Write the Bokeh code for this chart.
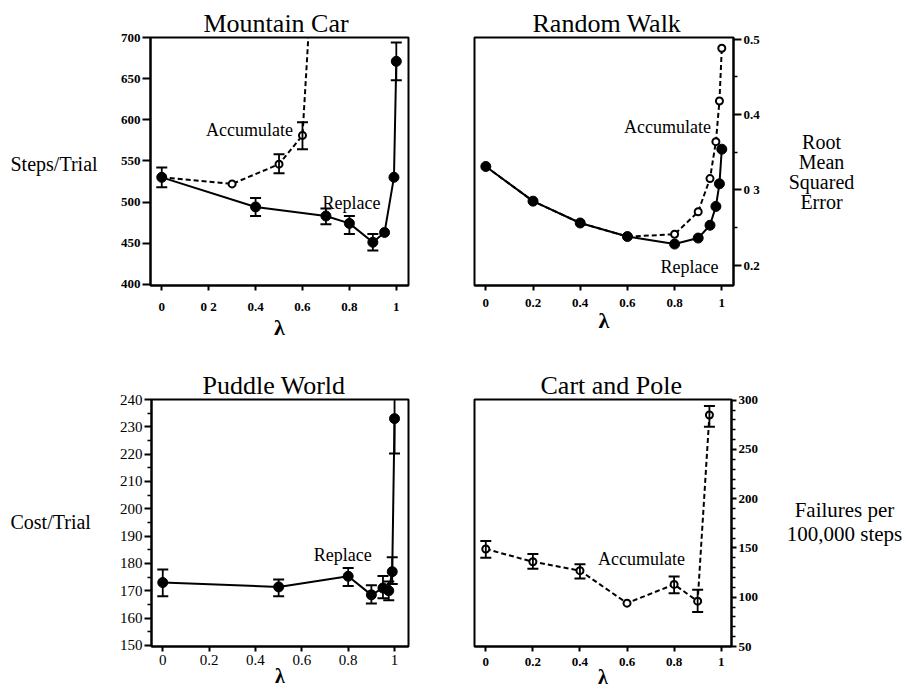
from bokeh.plotting import figure
from bokeh.layouts import column, row
from bokeh.models import Range1d, FixedTicker, Label, Title
from bokeh.core.properties import value
from bokeh.embed import file_html
from bokeh.resources import INLINE

FONT = "Liberation Serif"

# ---------------- data ----------------
# Mountain Car
mc_rep_lam = [0.0, 0.4, 0.7, 0.8, 0.9, 0.95, 0.99, 1.0]
mc_rep = [530, 494, 483, 474, 451, 463, 530, 671]
mc_rep_err_lam = [0.0, 0.4, 0.7, 0.8, 0.9, 1.0]
mc_rep_lo = [518, 483, 473, 461, 441, 648]
mc_rep_hi = [542, 505, 492, 483, 461, 694]
mc_acc_lam = [0.0, 0.3, 0.5, 0.6, 0.7]
mc_acc = [530, 522, 546, 581, 1060]
mc_acc_err_lam = [0.5, 0.6]
mc_acc_lo = [535, 564]
mc_acc_hi = [558, 597]
mc_xticks = [0, 0.2, 0.4, 0.6, 0.8, 1.0]
mc_xtick_labels = ["0", "0 2", "0.4", "0.6", "0.8", "1"]
mc_yticks = [400, 450, 500, 550, 600, 650, 700]

# Random Walk
rw_lam = [0.0, 0.2, 0.4, 0.6, 0.8, 0.9, 0.95, 0.975, 0.99, 1.0]
rw_rep = [0.331, 0.285, 0.256, 0.238, 0.228, 0.236, 0.253, 0.278, 0.308, 0.354]
rw_acc = [0.331, 0.285, 0.256, 0.238, 0.241, 0.271, 0.315, 0.364, 0.418, 0.488]
rw_xticks = [0, 0.2, 0.4, 0.6, 0.8, 1.0]
rw_xtick_labels = ["0", "0.2", "0.4", "0.6", "0.8", "1"]
rw_yticks = [0.2, 0.3, 0.4, 0.5]
rw_ytick_labels = ["0.2", "0 3", "0.4", "0.5"]

# Puddle World
pw_lam = [0.0, 0.5, 0.8, 0.9, 0.95, 0.975, 0.99, 1.0]
pw_rep = [173, 171.4, 175.3, 168.5, 171, 170, 177, 233]
pw_lo = [168, 168, 171.7, 165.3, 167.3, 166.5, 172.5, 220.2]
pw_hi = [177.8, 174.1, 178.3, 172, 175.4, 173.4, 182.3, 246]
pw_xticks = [0, 0.2, 0.4, 0.6, 0.8, 1.0]
pw_xtick_labels = ["0", "0.2", "0.4", "0.6", "0.8", "1"]
pw_yticks = [150, 160, 170, 180, 190, 200, 210, 220, 230, 240]

# Cart and Pole
cp_lam = [0.0, 0.2, 0.4, 0.6, 0.8, 0.9, 0.95]
cp_acc = [149, 136, 127, 94, 113, 96, 285]
cp_err_lam = [0.0, 0.2, 0.4, 0.8, 0.9, 0.95]
cp_lo = [140, 129, 119, 104, 85, 273]
cp_hi = [157, 144, 133.5, 121, 107.5, 294]
cp_xticks = [0, 0.2, 0.4, 0.6, 0.8, 1.0]
cp_xtick_labels = ["0", "0.2", "0.4", "0.6", "0.8", "1"]
cp_yticks = [50, 100, 150, 200, 250, 300]

# page origin of the layout (observed) and row geometry
OX, OY = 2, 2
ROW1_Y, ROW1_H = OY, 358
ROW2_Y, ROW2_H = OY + 358, 332
F1_T, F1_B = 39, 287      # frame top/bottom of row 1 (page px)
F2_T, F2_B = 401, 648     # frame top/bottom of row 2 (page px)


# ---------------- helpers ----------------
def make_panel(ox, W, oy, H, L, T, R, B, xr, yr, yloc, title, t_offset, t_standoff):
    p = figure(width=W, height=H, min_border_left=L - ox, min_border_right=ox + W - R,
               min_border_top=T - oy, min_border_bottom=oy + H - B,
               x_range=Range1d(*xr), y_range=Range1d(*yr), y_axis_location=yloc,
               output_backend="svg", toolbar_location=None)
    p.title = Title(text=title, align="left", text_font=FONT,
                    text_font_size="26px", text_font_style="normal",
                    text_color="black", offset=t_offset, standoff=t_standoff)
    p.grid.visible = False
    p.outline_line_color = "black"
    p.outline_line_width = 2
    p.outline_line_alpha = 1
    p.background_fill_color = "white"
    p.border_fill_color = "white"
    p._spec = (L, T, R, B, xr[0], xr[1], yr[0], yr[1])
    return p


def style_axes(p, xticks, xlabels, yticks, ylabels, size, bold, ytick_out, xstand,
               lam_size, lam_standoff, yminor=None):
    for ax in p.axis:
        ax.axis_line_width = 2
        ax.axis_line_color = "black"
        ax.major_tick_line_width = 2
        ax.major_tick_in = 0
        ax.minor_tick_in = 0
        ax.minor_tick_line_width = 1.5
        ax.major_label_text_font = FONT
        ax.major_label_text_font_size = f"{size}px"
        ax.major_label_text_font_style = "bold" if bold else "normal"
        ax.major_label_text_color = "black"
    xa = p.xaxis[0]
    xa.ticker = FixedTicker(ticks=xticks, minor_ticks=[])
    xa.major_label_overrides = {t: l for t, l in zip(xticks, xlabels)}
    xa.major_tick_out = 5
    xa.minor_tick_out = 0
    xa.major_label_standoff = xstand
    xa.axis_label = "λ"
    xa.axis_label_text_font = FONT
    xa.axis_label_text_font_size = f"{lam_size}px"
    xa.axis_label_text_font_style = "bold"
    xa.axis_label_text_color = "black"
    xa.axis_label_standoff = lam_standoff
    ya = p.yaxis[0]
    ya.ticker = FixedTicker(ticks=yticks, minor_ticks=yminor or [])
    ya.major_label_overrides = {t: l for t, l in zip(yticks, ylabels)}
    ya.major_tick_out = ytick_out
    ya.minor_tick_out = 4
    ya.major_label_standoff = 2


def add_text(p, px, py, text, size, align="center", baseline="alphabetic"):
    L, T, R, B, x0, x1, y0, y1 = p._spec
    x = x0 + (px - L) / (R - L) * (x1 - x0)
    y = y1 - (py - T) / (B - T) * (y1 - y0)
    p.add_layout(Label(x=x, y=y, text=text, text_font=FONT,
                       text_font_size=f"{size}px", text_align=align,
                       text_baseline=baseline, text_color="black"))


def text_panel(ox, W, oy, H, T, B, items):
    # plain figure whose data coordinates are page pixels (y downward)
    t = figure(width=W, height=H, x_range=Range1d(ox, ox + W), y_range=Range1d(B, T),
               min_border_left=0, min_border_right=0,
               min_border_top=T - oy, min_border_bottom=oy + H - B,
               x_axis_location=None, y_axis_location=None,
               output_backend="svg", toolbar_location=None)
    t.grid.visible = False
    t.outline_line_color = None
    t.background_fill_color = "white"
    t.border_fill_color = "white"
    for (x, y, txt, size, align) in items:
        t.text(x=[x], y=[y], text=[txt], text_font=value(FONT),
               text_font_size=value(f"{size}px"), text_align=value(align),
               text_baseline=value("alphabetic"), text_color="black")
    return t


def errbars(p, lam, lo, hi):
    p.segment(x0=lam, y0=lo, x1=lam, y1=hi, line_color="black", line_width=1.8)
    p.scatter(lam, lo, marker="dash", size=11, line_color="black", line_width=2)
    p.scatter(lam, hi, marker="dash", size=11, line_color="black", line_width=2)


def solid_series(p, lam, vals):
    p.line(lam, vals, line_color="black", line_width=2)
    p.scatter(lam, vals, marker="circle", size=10, fill_color="black",
              line_color="black")


def dashed_series(p, lam, vals):
    p.line(lam, vals, line_color="black", line_width=2, line_dash="5 3")
    p.scatter(lam, vals, marker="circle", size=7, fill_color="white",
              line_color="black", line_width=2)


# ---------------- Mountain Car ----------------
p1 = make_panel(118, 322, ROW1_Y, ROW1_H, 152, F1_T, 410, F1_B,
                (-0.048, 1.052), (398.5, 700), "left", "Mountain Car", 53, 0)
style_axes(p1, mc_xticks, mc_xtick_labels, mc_yticks, [str(v) for v in mc_yticks],
           13, True, 8, 8, 22, -2)
dashed_series(p1, mc_acc_lam, mc_acc)
errbars(p1, mc_acc_err_lam, mc_acc_lo, mc_acc_hi)
errbars(p1, mc_rep_err_lam, mc_rep_lo, mc_rep_hi)
solid_series(p1, mc_rep_lam, mc_rep)
add_text(p1, 251, 131, "Accumulate", 18)
add_text(p1, 353, 204, "Replace", 18)

# ---------------- Random Walk ----------------
p2 = make_panel(440, 332, ROW1_Y, ROW1_H, 476, F1_T, 735, F1_B,
                (-0.048, 1.0496), (0.173, 0.5023), "right", "Random Walk", 58, 0)
style_axes(p2, rw_xticks, rw_xtick_labels, rw_yticks, rw_ytick_labels, 13, True, 8, 8,
           22, -2, yminor=[0.25, 0.35, 0.45])
dashed_series(p2, rw_lam, rw_acc)
solid_series(p2, rw_lam, rw_rep)
add_text(p2, 669, 128, "Accumulate", 18)
add_text(p2, 691, 268, "Replace", 18)

# ---------------- Puddle World ----------------
p3 = make_panel(118, 322, ROW2_Y, ROW2_H, 152, F2_T, 410, F2_B,
                (-0.0486, 1.0602), (149.6, 240), "left", "Puddle World", 51, 0)
style_axes(p3, pw_xticks, pw_xtick_labels, pw_yticks, [str(v) for v in pw_yticks],
           15, False, 7, 3, 20, -3,
           yminor=[155, 165, 175, 185, 195, 205, 215, 225, 235])
errbars(p3, pw_lam, pw_lo, pw_hi)
solid_series(p3, pw_lam, pw_rep)
add_text(p3, 344, 556, "Replace", 18)

# ---------------- Cart and Pole ----------------
p4 = make_panel(440, 332, ROW2_Y, ROW2_H, 476, F2_T, 733, F2_B,
                (-0.048, 1.0438), (50, 300.7), "right", "Cart and Pole", 66, 0)
style_axes(p4, cp_xticks, cp_xtick_labels, cp_yticks, [str(v) for v in cp_yticks],
           13, True, 5, 6, 20, -3,
           yminor=[v for v in range(60, 300, 10) if v % 50 != 0])
dashed_series(p4, cp_lam, cp_acc)
errbars(p4, cp_err_lam, cp_lo, cp_hi)
add_text(p4, 643, 560, "Accumulate", 18)

# ---------------- side text panels ----------------
t1 = text_panel(OX, 116, ROW1_Y, ROW1_H, F1_T, F1_B,
                [(12, 165, "Steps/Trial", 20, "left")])
t2 = text_panel(772, 133, ROW1_Y, ROW1_H, F1_T, F1_B,
                [(823, 143, "Root", 20, "center"),
                 (823, 163, "Mean", 20, "center"),
                 (823, 183, "Squared", 20, "center"),
                 (823, 203, "Error", 20, "center")])
t3 = text_panel(OX, 116, ROW2_Y, ROW2_H, F2_T, F2_B,
                [(12, 523, "Cost/Trial", 20, "left")])
t4 = text_panel(772, 133, ROW2_Y, ROW2_H, F2_T, F2_B,
                [(846, 511, "Failures per", 21, "center"),
                 (846, 535, "100,000 steps", 21, "center")])

layout = column(row(t1, p1, p2, t2), row(t3, p3, p4, t4))
open("out.html", "w").write(file_html(layout, INLINE))
